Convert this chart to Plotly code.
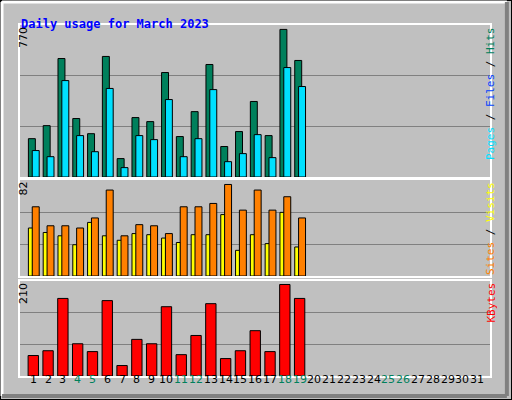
import plotly.graph_objects as go
from plotly.subplots import make_subplots

days = list(range(1, 32))
n = 19
hits = [200, 268, 618, 305, 226, 629, 96, 310, 289, 545, 211, 341, 587, 159, 237, 394, 216, 770, 608]
pages = [138, 106, 503, 216, 132, 462, 49, 216, 195, 404, 106, 200, 456, 80, 122, 221, 101, 571, 472]
visits = [43, 39, 36, 28, 48, 36, 32, 38, 37, 34, 30, 37, 37, 55, 23, 37, 29, 57, 26]
sites = [62, 45, 45, 43, 52, 77, 36, 46, 45, 38, 62, 62, 65, 82, 59, 77, 59, 71, 52]
kbytes = [47, 58, 178, 74, 56, 173, 24, 84, 74, 159, 49, 93, 166, 40, 58, 104, 56, 210, 178]
weekends = [4, 5, 11, 12, 18, 19, 25, 26]

x = days[:n]
fig = make_subplots(rows=3, cols=1)
line = dict(color="black", width=1)
fig.add_bar(x=x, y=hits, marker=dict(color="#00805C", line=line), width=0.47, offset=-0.33, row=1, col=1)
fig.add_bar(x=x, y=pages, marker=dict(color="#00E0FF", line=line), width=0.47, offset=-0.07, row=1, col=1)
fig.add_bar(x=x, y=visits, marker=dict(color="#FFFF00", line=line), width=0.3, offset=-0.33, row=2, col=1)
fig.add_bar(x=x, y=sites, marker=dict(color="#FF8000", line=line), width=0.47, offset=-0.07, row=2, col=1)
fig.add_bar(x=x, y=kbytes, marker=dict(color="#FF0000", line=line), width=0.7, offset=-0.35, row=3, col=1)

doms = [[0.5575, 0.9375], [0.31, 0.55], [0.06, 0.2975]]
tops = [793, 86, 218]
for i in range(3):
    ax = "" if i == 0 else str(i + 1)
    fig.layout["yaxis" + ax].update(domain=doms[i], range=[0, tops[i]], showticklabels=False,
                                    tickvals=[tops[i] / 3, 2 * tops[i] / 3], gridcolor="#808080",
                                    zeroline=False, showline=True, linecolor="white", mirror=True, linewidth=2)
    fig.layout["xaxis" + ax].update(domain=[0.039, 0.958], range=[0.1, 31.9], showgrid=False,
                                    showticklabels=False, showline=True, linecolor="white", mirror=True, linewidth=2)

ann = []
for d in days:
    ann.append(dict(x=d, y=1 - 388 / 400, xref="x3", yref="paper", text=str(d), showarrow=False,
                    font=dict(family="DejaVu Sans", size=11, color="#00805C" if d in weekends else "black")))
mono = "DejaVu Sans Mono"
ann.append(dict(x=19 / 512, y=1 - 15 / 400, xref="paper", yref="paper", text="<b>Daily usage for March 2023</b>",
                showarrow=False, xanchor="left", font=dict(family=mono, size=12, color="#0000FF")))
for txt, yv in [("770", 0.9375), ("82", 0.55), ("210", 0.2975)]:
    ann.append(dict(x=15 / 512, y=yv, xref="paper", yref="paper", text=txt, textangle=-90, showarrow=False,
                    yanchor="top", font=dict(family="DejaVu Sans", size=11, color="black")))
right = [("<span style='color:#00E0FF'>Pages</span> / <span style='color:#0040FF'>Files</span> / "
          "<span style='color:#00805C'>Hits</span>", 0.9375),
         ("<span style='color:#FF8000'>Sites</span> / <span style='color:#FFFF00'>Visits</span>", 0.55),
         ("<span style='color:#FF0000'>KBytes</span>", 0.2975)]
for txt, yv in right:
    ann.append(dict(x=499 / 512, y=yv, xref="paper", yref="paper", text=txt, textangle=-90, showarrow=False,
                    yanchor="top", font=dict(family=mono, size=11, color="black")))

shapes = [
    dict(type="rect", xref="paper", yref="paper", x0=0, x1=1, y0=0, y1=1, line=dict(color="black", width=2)),
    dict(type="line", xref="paper", yref="paper", x0=2 / 512, x1=2 / 512, y0=0.01, y1=0.995, line=dict(color="white", width=3)),
    dict(type="line", xref="paper", yref="paper", x0=0.004, x1=0.99, y0=0.995, y1=0.995, line=dict(color="white", width=3)),
    dict(type="line", xref="paper", yref="paper", x0=0.99, x1=0.99, y0=0.01, y1=0.995, line=dict(color="#808080", width=4)),
    dict(type="line", xref="paper", yref="paper", x0=0.004, x1=0.99, y0=0.01, y1=0.01, line=dict(color="#808080", width=4)),
]

fig.update_layout(width=512, height=400, margin=dict(l=0, r=0, t=0, b=0), showlegend=False,
                  paper_bgcolor="#C0C0C0", plot_bgcolor="#C0C0C0", barmode="overlay",
                  annotations=ann, shapes=shapes)
fig.write_html("out.html", config={"displayModeBar": False},
               post_script="document.body.style.margin='0';document.body.style.overflow='hidden';")
